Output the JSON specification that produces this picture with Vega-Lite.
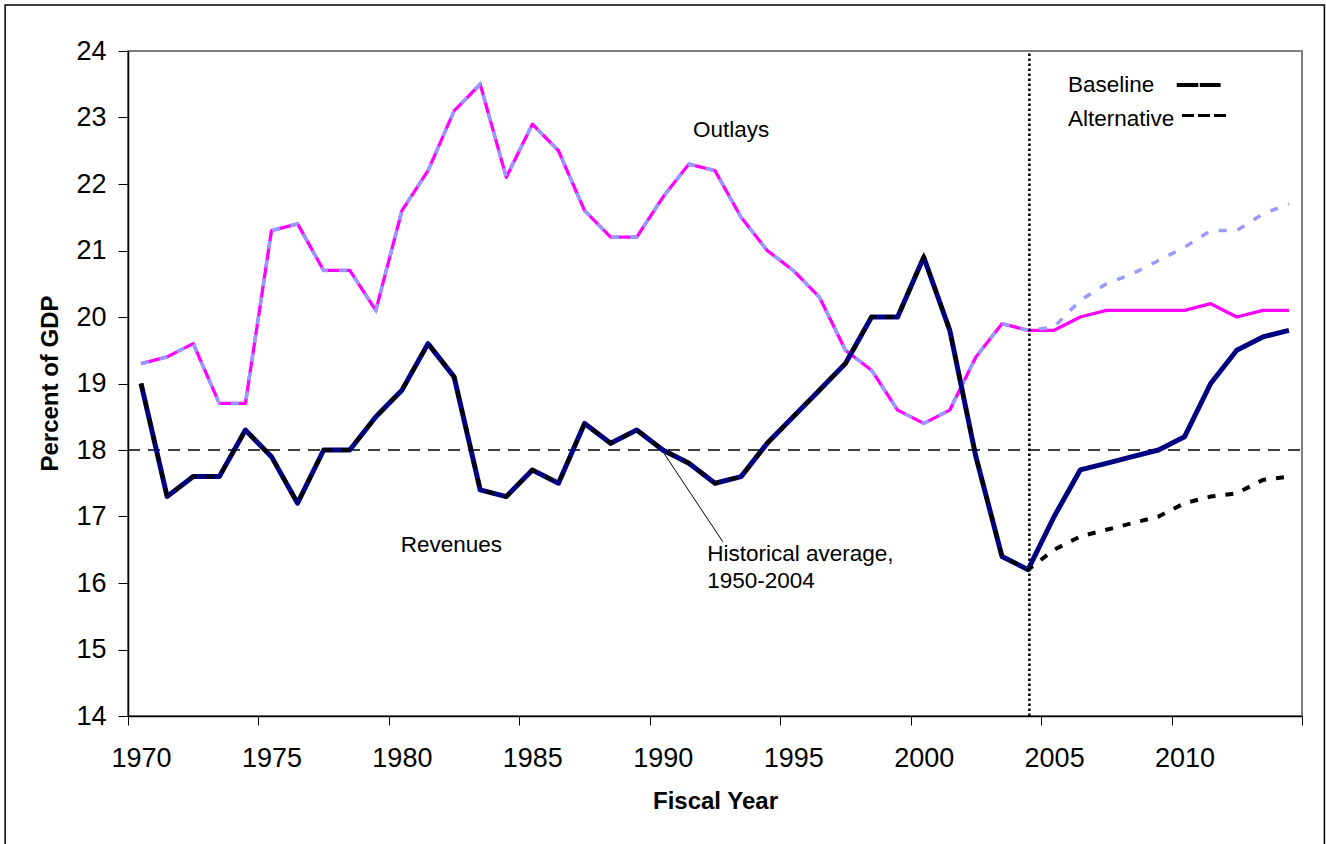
{
  "$schema": "https://vega.github.io/schema/vega-lite/v6.json",
  "autosize": {"type": "none"},
  "width": 1174,
  "height": 665,
  "padding": {"left": 128, "top": 51, "right": 24, "bottom": 128},
  "background": "white",
  "config": {
    "view": {"stroke": "#808080", "strokeWidth": 2},
    "font": "Liberation Sans",
    "text": {"font": "Liberation Sans"},
    "axis": {"grid": false, "labelFont": "Liberation Sans", "labelFontSize": 27, "labelColor": "black", "titleFont": "Liberation Sans", "titleFontSize": 24, "titleFontWeight": "bold", "titleColor": "black", "tickColor": "black", "domainColor": "black", "domainWidth": 1.5},
    "axisX": {"labelOffset": 13, "tickSize": 9},
    "axisY": {"format": "d", "tickSize": 10}
  },
  "datasets": {
    "budget": [
      {"year": 1970, "outlays": 19.3, "outlays_alt": 19.3, "revenues": 19.0, "revenues_alt": 19.0},
      {"year": 1971, "outlays": 19.4, "outlays_alt": 19.4, "revenues": 17.3, "revenues_alt": 17.3},
      {"year": 1972, "outlays": 19.6, "outlays_alt": 19.6, "revenues": 17.6, "revenues_alt": 17.6},
      {"year": 1973, "outlays": 18.7, "outlays_alt": 18.7, "revenues": 17.6, "revenues_alt": 17.6},
      {"year": 1974, "outlays": 18.7, "outlays_alt": 18.7, "revenues": 18.3, "revenues_alt": 18.3},
      {"year": 1975, "outlays": 21.3, "outlays_alt": 21.3, "revenues": 17.9, "revenues_alt": 17.9},
      {"year": 1976, "outlays": 21.4, "outlays_alt": 21.4, "revenues": 17.2, "revenues_alt": 17.2},
      {"year": 1977, "outlays": 20.7, "outlays_alt": 20.7, "revenues": 18.0, "revenues_alt": 18.0},
      {"year": 1978, "outlays": 20.7, "outlays_alt": 20.7, "revenues": 18.0, "revenues_alt": 18.0},
      {"year": 1979, "outlays": 20.1, "outlays_alt": 20.1, "revenues": 18.5, "revenues_alt": 18.5},
      {"year": 1980, "outlays": 21.6, "outlays_alt": 21.6, "revenues": 18.9, "revenues_alt": 18.9},
      {"year": 1981, "outlays": 22.2, "outlays_alt": 22.2, "revenues": 19.6, "revenues_alt": 19.6},
      {"year": 1982, "outlays": 23.1, "outlays_alt": 23.1, "revenues": 19.1, "revenues_alt": 19.1},
      {"year": 1983, "outlays": 23.5, "outlays_alt": 23.5, "revenues": 17.4, "revenues_alt": 17.4},
      {"year": 1984, "outlays": 22.1, "outlays_alt": 22.1, "revenues": 17.3, "revenues_alt": 17.3},
      {"year": 1985, "outlays": 22.9, "outlays_alt": 22.9, "revenues": 17.7, "revenues_alt": 17.7},
      {"year": 1986, "outlays": 22.5, "outlays_alt": 22.5, "revenues": 17.5, "revenues_alt": 17.5},
      {"year": 1987, "outlays": 21.6, "outlays_alt": 21.6, "revenues": 18.4, "revenues_alt": 18.4},
      {"year": 1988, "outlays": 21.2, "outlays_alt": 21.2, "revenues": 18.1, "revenues_alt": 18.1},
      {"year": 1989, "outlays": 21.2, "outlays_alt": 21.2, "revenues": 18.3, "revenues_alt": 18.3},
      {"year": 1990, "outlays": 21.8, "outlays_alt": 21.8, "revenues": 18.0, "revenues_alt": 18.0},
      {"year": 1991, "outlays": 22.3, "outlays_alt": 22.3, "revenues": 17.8, "revenues_alt": 17.8},
      {"year": 1992, "outlays": 22.2, "outlays_alt": 22.2, "revenues": 17.5, "revenues_alt": 17.5},
      {"year": 1993, "outlays": 21.5, "outlays_alt": 21.5, "revenues": 17.6, "revenues_alt": 17.6},
      {"year": 1994, "outlays": 21.0, "outlays_alt": 21.0, "revenues": 18.1, "revenues_alt": 18.1},
      {"year": 1995, "outlays": 20.7, "outlays_alt": 20.7, "revenues": 18.5, "revenues_alt": 18.5},
      {"year": 1996, "outlays": 20.3, "outlays_alt": 20.3, "revenues": 18.9, "revenues_alt": 18.9},
      {"year": 1997, "outlays": 19.5, "outlays_alt": 19.5, "revenues": 19.3, "revenues_alt": 19.3},
      {"year": 1998, "outlays": 19.2, "outlays_alt": 19.2, "revenues": 20.0, "revenues_alt": 20.0},
      {"year": 1999, "outlays": 18.6, "outlays_alt": 18.6, "revenues": 20.0, "revenues_alt": 20.0},
      {"year": 2000, "outlays": 18.4, "outlays_alt": 18.4, "revenues": 20.9, "revenues_alt": 20.9},
      {"year": 2001, "outlays": 18.6, "outlays_alt": 18.6, "revenues": 19.8, "revenues_alt": 19.8},
      {"year": 2002, "outlays": 19.4, "outlays_alt": 19.4, "revenues": 17.9, "revenues_alt": 17.9},
      {"year": 2003, "outlays": 19.9, "outlays_alt": 19.9, "revenues": 16.4, "revenues_alt": 16.4},
      {"year": 2004, "outlays": 19.8, "outlays_alt": 19.8, "revenues": 16.2, "revenues_alt": 16.2},
      {"year": 2005, "outlays": 19.8, "outlays_alt": 19.85, "revenues": 17.0, "revenues_alt": 16.5},
      {"year": 2006, "outlays": 20.0, "outlays_alt": 20.25, "revenues": 17.7, "revenues_alt": 16.7},
      {"year": 2007, "outlays": 20.1, "outlays_alt": 20.5, "revenues": 17.8, "revenues_alt": 16.8},
      {"year": 2008, "outlays": 20.1, "outlays_alt": 20.65, "revenues": 17.9, "revenues_alt": 16.9},
      {"year": 2009, "outlays": 20.1, "outlays_alt": 20.85, "revenues": 18.0, "revenues_alt": 17.0},
      {"year": 2010, "outlays": 20.1, "outlays_alt": 21.05, "revenues": 18.2, "revenues_alt": 17.2},
      {"year": 2011, "outlays": 20.2, "outlays_alt": 21.3, "revenues": 19.0, "revenues_alt": 17.3},
      {"year": 2012, "outlays": 20.0, "outlays_alt": 21.3, "revenues": 19.5, "revenues_alt": 17.35},
      {"year": 2013, "outlays": 20.1, "outlays_alt": 21.55, "revenues": 19.7, "revenues_alt": 17.55},
      {"year": 2014, "outlays": 20.1, "outlays_alt": 21.7, "revenues": 19.8, "revenues_alt": 17.6}
    ],
    "frame": [{"x": 1964.79, "x2": 2015.36, "y": 24.69, "y2": 11.8}],
    "average": [{"x": 1969.5, "x2": 2014.6, "y": 18}],
    "divider": [{"x": 2004.05, "y": 14, "y2": 24}],
    "leader": [{"x": 1989.96, "y": 18.0, "x2": 1992.3, "y2": 16.62}],
    "legendBase": [{"x": 2009.7, "x2": 2011.38, "y": 23.49}],
    "legendAlt": [{"x": 2009.9, "x2": 2011.62, "y": 23.03}],
    "labels": [
      {"x": 1991.16, "y": 22.7, "text": "Outlays"},
      {"x": 1979.95, "y": 16.47, "text": "Revenues"},
      {"x": 1991.7, "y": 16.335, "text": "Historical average,"},
      {"x": 1991.7, "y": 15.92, "text": "1950-2004"},
      {"x": 2005.53, "y": 23.38, "text": "Baseline"},
      {"x": 2005.53, "y": 22.87, "text": "Alternative"}
    ]
  },
  "layer": [
    {
      "data": {"name": "budget"},
      "mark": {"type": "line", "color": "#FF00FF", "strokeWidth": 3.3, "strokeJoin": "round"},
      "encoding": {
        "x": {
          "field": "year", "type": "quantitative", "title": "Fiscal Year",
          "scale": {"domain": [1969.5, 2014.5], "nice": false, "zero": false},
          "axis": {
            "values": [1969.5, 1974.5, 1979.5, 1984.5, 1989.5, 1994.5, 1999.5, 2004.5, 2009.5, 2014.5],
            "labelExpr": "datum.value > 2014 ? '' : format(datum.value + 0.5, 'd')",
            "labelOffset": 13,
            "labelFont": "Liberation Sans",
            "labelFontSize": 27,
            "labelColor": "black",
            "labelBaseline": "alphabetic",
            "labelPadding": 41,
            "labelFlush": false,
            "labelOverlap": false,
            "tickSize": 9,
            "tickColor": "black",
            "tickWidth": 1,
            "domainColor": "black",
            "domainWidth": 1.5,
            "grid": false,
            "titleFont": "Liberation Sans",
            "titleFontSize": 24,
            "titleFontWeight": "bold",
            "titleColor": "black",
            "titleBaseline": "alphabetic",
            "titleY": 92
          }
        },
        "y": {
          "field": "outlays", "type": "quantitative", "title": "Percent of GDP",
          "scale": {"domain": [14, 24], "nice": false, "zero": false},
          "axis": {
            "values": [14, 15, 16, 17, 18, 19, 20, 21, 22, 23, 24],
            "format": "d",
            "labelFont": "Liberation Sans",
            "labelFontSize": 27,
            "labelColor": "black",
            "labelPadding": 12,
            "tickSize": 10,
            "tickColor": "black",
            "tickWidth": 1,
            "domainColor": "black",
            "domainWidth": 1.5,
            "grid": false,
            "titleFont": "Liberation Sans",
            "titleFontSize": 24,
            "titleFontWeight": "bold",
            "titleColor": "black",
            "titleAngle": 270,
            "titleAlign": "center",
            "titleBaseline": "alphabetic",
            "titleX": -71,
            "titleY": 332
          }
        }
      }
    },
    {
      "data": {"name": "frame"},
      "mark": {"type": "rect", "fill": "white", "fillOpacity": 0, "stroke": "black", "strokeWidth": 1.5, "clip": false},
      "encoding": {
        "x": {"field": "x", "type": "quantitative", "title": "Fiscal Year"},
        "x2": {"field": "x2"},
        "y": {"field": "y", "type": "quantitative", "title": "Percent of GDP"},
        "y2": {"field": "y2"}
      }
    },
    {
      "data": {"name": "average"},
      "mark": {"type": "rule", "color": "black", "strokeWidth": 1.3, "strokeDash": [12, 8], "clip": false},
      "encoding": {
        "x": {"field": "x", "type": "quantitative", "title": "Fiscal Year"},
        "x2": {"field": "x2"},
        "y": {"field": "y", "type": "quantitative", "title": "Percent of GDP"}
      }
    },
    {
      "data": {"name": "divider"},
      "mark": {"type": "rule", "color": "black", "strokeWidth": 2.6, "strokeDash": [2.6, 2.4]},
      "encoding": {
        "x": {"field": "x", "type": "quantitative", "title": "Fiscal Year"},
        "y": {"field": "y", "type": "quantitative", "title": "Percent of GDP"},
        "y2": {"field": "y2"}
      }
    },
    {
      "data": {"name": "leader"},
      "mark": {"type": "rule", "color": "black", "strokeWidth": 1},
      "encoding": {
        "x": {"field": "x", "type": "quantitative", "title": "Fiscal Year"},
        "x2": {"field": "x2"},
        "y": {"field": "y", "type": "quantitative", "title": "Percent of GDP"},
        "y2": {"field": "y2"}
      }
    },
    {
      "data": {"name": "budget"},
      "mark": {"type": "line", "color": "#9999FF", "strokeWidth": 3.5, "strokeDash": [8, 11]},
      "encoding": {
        "x": {"field": "year", "type": "quantitative", "title": "Fiscal Year"},
        "y": {"field": "outlays_alt", "type": "quantitative", "title": "Percent of GDP"}
      }
    },
    {
      "data": {"name": "budget"},
      "mark": {"type": "line", "color": "#000080", "strokeWidth": 5, "strokeJoin": "round"},
      "encoding": {
        "x": {"field": "year", "type": "quantitative", "title": "Fiscal Year"},
        "y": {"field": "revenues", "type": "quantitative", "title": "Percent of GDP"}
      }
    },
    {
      "data": {"name": "budget"},
      "mark": {"type": "line", "color": "black", "strokeWidth": 4, "strokeDash": [8, 10]},
      "encoding": {
        "x": {"field": "year", "type": "quantitative", "title": "Fiscal Year"},
        "y": {"field": "revenues_alt", "type": "quantitative", "title": "Percent of GDP"}
      }
    },
    {
      "data": {"name": "labels"},
      "mark": {"type": "text", "align": "left", "baseline": "alphabetic", "font": "Liberation Sans", "fontSize": 22.5, "color": "black"},
      "encoding": {
        "x": {"field": "x", "type": "quantitative", "title": "Fiscal Year"},
        "y": {"field": "y", "type": "quantitative", "title": "Percent of GDP"},
        "text": {"field": "text"}
      }
    },
    {
      "data": {"name": "legendBase"},
      "mark": {"type": "rule", "color": "black", "strokeWidth": 4, "strokeDash": [21.5, 1.5]},
      "encoding": {
        "x": {"field": "x", "type": "quantitative", "title": "Fiscal Year"},
        "x2": {"field": "x2"},
        "y": {"field": "y", "type": "quantitative", "title": "Percent of GDP"}
      }
    },
    {
      "data": {"name": "legendAlt"},
      "mark": {"type": "rule", "color": "black", "strokeWidth": 3, "strokeDash": [12, 4]},
      "encoding": {
        "x": {"field": "x", "type": "quantitative", "title": "Fiscal Year"},
        "x2": {"field": "x2"},
        "y": {"field": "y", "type": "quantitative", "title": "Percent of GDP"}
      }
    }
  ]
}
